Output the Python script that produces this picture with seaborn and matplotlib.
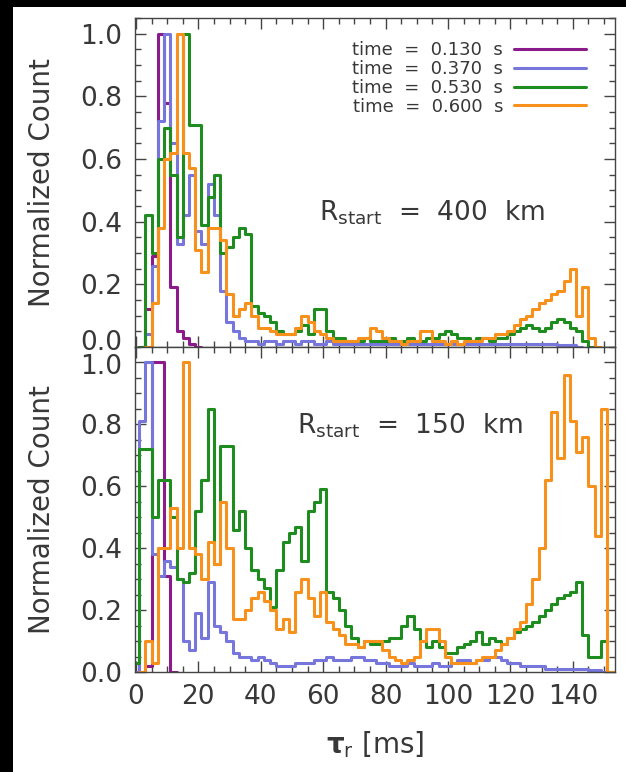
import numpy as np
import pandas as pd
import matplotlib
matplotlib.use("Agg")
import matplotlib.pyplot as plt
import seaborn as sns
from matplotlib.patches import Rectangle
from matplotlib.lines import Line2D
from matplotlib.ticker import MultipleLocator
from matplotlib.transforms import ScaledTranslation

# ---------------- data (bin centres 0..150 ms, bin width 2 ms) ----------------
bin_centers = list(range(0, 152, 2))          # 76 bins
times = ["0.130", "0.370", "0.530", "0.600"]
colors = ["#8b1a8b", "#7676dc", "#1e8c1e", "#f8901c"]

def _fill(d):
    out = [0.0] * len(bin_centers)
    for c, v in d.items():
        out[c // 2] = v
    return out

# R_start = 400 km
purple_400 = _fill({4: 0.12, 6: 0.29, 8: 1.0, 10: 0.78, 12: 0.19, 14: 0.05, 16: 0.03, 18: 0.01})
blue_400 = _fill({4: 0.04, 6: 0.26, 8: 0.72, 10: 1.0, 12: 0.65, 14: 0.33, 16: 0.42, 18: 0.55,
                  20: 0.37, 22: 0.33, 24: 0.52, 26: 0.42, 28: 0.18, 30: 0.08, 32: 0.05,
                  34: 0.03, 36: 0.02, 38: 0.02, 40: 0.01, 42: 0.02, 44: 0.02, 46: 0.01,
                  48: 0.02, 50: 0.02, 52: 0.01, 54: 0.02, 56: 0.02, 58: 0.01, 60: 0.01,
                  62: 0.02, 64: 0.01, 66: 0.01, 68: 0.01, 70: 0.01, 72: 0.01, 74: 0.01,
                  76: 0.01, 78: 0.01, 80: 0.01, 82: 0.01, 84: 0.01, 86: 0.01, 88: 0.01,
                  90: 0.01, 92: 0.01, 94: 0.01, 96: 0.01, 98: 0.01, 100: 0.01, 102: 0.01,
                  104: 0.01, 106: 0.01, 108: 0.01, 110: 0.01, 112: 0.01, 114: 0.01,
                  116: 0.01, 118: 0.01, 120: 0.01, 122: 0.01, 124: 0.01, 126: 0.01,
                  128: 0.01, 130: 0.01, 132: 0.01, 134: 0.01, 136: 0.005, 138: 0.005,
                  140: 0.005})
green_400 = _fill({4: 0.42, 6: 0.3, 8: 0.6, 10: 0.7, 12: 0.55, 14: 0.35, 16: 1.0, 18: 0.71,
                   20: 0.71, 22: 0.39, 24: 0.48, 26: 0.55, 28: 0.3, 30: 0.32, 32: 0.35,
                   34: 0.38, 36: 0.36, 38: 0.13, 40: 0.11, 42: 0.1, 44: 0.08, 46: 0.05,
                   48: 0.04, 50: 0.04, 52: 0.05, 54: 0.07, 56: 0.04, 58: 0.12, 60: 0.12,
                   62: 0.05, 64: 0.03, 66: 0.03, 68: 0.02, 70: 0.02, 72: 0.02, 74: 0.03,
                   76: 0.02, 78: 0.02, 80: 0.02, 82: 0.03, 84: 0.02, 86: 0.02, 88: 0.03,
                   90: 0.02, 92: 0.02, 94: 0.03, 96: 0.03, 98: 0.04, 100: 0.05, 102: 0.04,
                   104: 0.03, 106: 0.03, 108: 0.02, 110: 0.03, 112: 0.03, 114: 0.02,
                   116: 0.03, 118: 0.03, 120: 0.04, 122: 0.05, 124: 0.06, 126: 0.07,
                   128: 0.06, 130: 0.05, 132: 0.06, 134: 0.08, 136: 0.09, 138: 0.08,
                   140: 0.06, 142: 0.05, 144: 0.02})
orange_400 = _fill({6: 0.14, 8: 0.38, 10: 0.6, 12: 0.62, 14: 1.0, 16: 0.62, 18: 0.57,
                    20: 0.31, 22: 0.24, 24: 0.38, 26: 0.38, 28: 0.34, 30: 0.17, 32: 0.1,
                    34: 0.12, 36: 0.14, 38: 0.1, 40: 0.06, 42: 0.06, 44: 0.05, 46: 0.04,
                    48: 0.04, 50: 0.04, 52: 0.06, 54: 0.1, 56: 0.08, 58: 0.05, 60: 0.04,
                    62: 0.03, 64: 0.02, 66: 0.02, 68: 0.02, 70: 0.02, 72: 0.03, 74: 0.03,
                    76: 0.06, 78: 0.05, 80: 0.03, 82: 0.02, 84: 0.02, 86: 0.01, 88: 0.02,
                    90: 0.02, 92: 0.05, 94: 0.05, 96: 0.02, 98: 0.02, 100: 0.01, 102: 0.02,
                    104: 0.01, 106: 0.02, 108: 0.02, 110: 0.02, 112: 0.03, 114: 0.03,
                    116: 0.04, 118: 0.04, 120: 0.05, 122: 0.07, 124: 0.09, 126: 0.1,
                    128: 0.12, 130: 0.14, 132: 0.15, 134: 0.17, 136: 0.18, 138: 0.21,
                    140: 0.25, 142: 0.1, 144: 0.19, 146: 0.03})

# R_start = 150 km
purple_150 = _fill({4: 0.02, 6: 1.0, 8: 1.0, 10: 0.31})
blue_150 = _fill({2: 0.81, 4: 1.0, 6: 0.38, 8: 0.31, 10: 0.36, 12: 0.34, 14: 0.3, 16: 0.1,
                  18: 0.07, 20: 0.19, 22: 0.11, 24: 0.29, 26: 0.15, 28: 0.13, 30: 0.1,
                  32: 0.06, 34: 0.05, 36: 0.05, 38: 0.04, 40: 0.05, 42: 0.04, 44: 0.03,
                  46: 0.02, 48: 0.02, 50: 0.02, 52: 0.03, 54: 0.03, 56: 0.03, 58: 0.04,
                  60: 0.04, 62: 0.05, 64: 0.04, 66: 0.04, 68: 0.04, 70: 0.05, 72: 0.05,
                  74: 0.04, 76: 0.04, 78: 0.03, 80: 0.03, 82: 0.02, 84: 0.02, 86: 0.02,
                  88: 0.03, 90: 0.02, 92: 0.02, 94: 0.02, 96: 0.03, 98: 0.02, 100: 0.02,
                  102: 0.03, 104: 0.04, 106: 0.04, 108: 0.03, 110: 0.04, 112: 0.04,
                  114: 0.05, 116: 0.05, 118: 0.04, 120: 0.03, 122: 0.03, 124: 0.02,
                  126: 0.02, 128: 0.02, 130: 0.02, 132: 0.01, 134: 0.01, 136: 0.01,
                  138: 0.01, 140: 0.01, 142: 0.01, 144: 0.01, 146: 0.005, 148: 0.005})
green_150 = _fill({0: 0.03, 2: 0.72, 4: 0.72, 6: 0.5, 8: 0.62, 10: 0.62, 12: 0.5, 14: 0.3,
                   16: 0.29, 18: 0.32, 20: 0.52, 22: 0.62, 24: 0.85, 26: 0.35, 28: 0.73,
                   30: 0.73, 32: 0.46, 34: 0.52, 36: 0.4, 38: 0.33, 40: 0.3, 42: 0.27,
                   44: 0.21, 46: 0.33, 48: 0.42, 50: 0.45, 52: 0.47, 54: 0.36, 56: 0.52,
                   58: 0.55, 60: 0.59, 62: 0.26, 64: 0.24, 66: 0.2, 68: 0.15, 70: 0.11,
                   72: 0.08, 74: 0.1, 76: 0.09, 78: 0.09, 80: 0.1, 82: 0.11, 84: 0.11,
                   86: 0.15, 88: 0.18, 90: 0.14, 92: 0.1, 94: 0.08, 96: 0.1, 98: 0.08,
                   100: 0.06, 102: 0.06, 104: 0.08, 106: 0.09, 108: 0.1, 110: 0.13,
                   112: 0.09, 114: 0.11, 116: 0.1, 118: 0.09, 120: 0.11, 122: 0.13,
                   124: 0.14, 126: 0.15, 128: 0.16, 130: 0.18, 132: 0.2, 134: 0.22,
                   136: 0.24, 138: 0.25, 140: 0.26, 142: 0.29, 144: 0.12, 146: 0.05,
                   148: 0.05, 150: 0.1})
orange_150 = _fill({4: 0.1, 6: 0.03, 8: 0.4, 10: 0.4, 12: 0.53, 14: 0.4, 16: 1.0, 18: 0.4,
                    20: 0.38, 22: 0.3, 24: 0.42, 26: 0.35, 28: 0.55, 30: 0.4, 32: 0.17,
                    34: 0.17, 36: 0.2, 38: 0.24, 40: 0.26, 42: 0.23, 44: 0.2, 46: 0.14,
                    48: 0.17, 50: 0.13, 52: 0.26, 54: 0.3, 56: 0.24, 58: 0.18, 60: 0.26,
                    62: 0.16, 64: 0.14, 66: 0.12, 68: 0.09, 70: 0.09, 72: 0.08, 74: 0.1,
                    76: 0.1, 78: 0.1, 80: 0.07, 82: 0.05, 84: 0.04, 86: 0.03, 88: 0.04,
                    90: 0.05, 92: 0.1, 94: 0.14, 96: 0.14, 98: 0.1, 100: 0.05, 102: 0.03,
                    104: 0.03, 106: 0.03, 108: 0.03, 110: 0.04, 112: 0.05, 114: 0.05,
                    116: 0.07, 118: 0.09, 120: 0.11, 122: 0.14, 124: 0.16, 126: 0.22,
                    128: 0.3, 130: 0.4, 132: 0.62, 134: 0.84, 136: 0.69, 138: 0.96,
                    140: 0.81, 142: 0.71, 144: 0.76, 146: 0.6, 148: 0.44, 150: 0.85})

panels = [
    ("400", [purple_400, blue_400, green_400, orange_400]),
    ("150", [purple_150, blue_150, green_150, orange_150]),
]
x_ticks = [0, 20, 40, 60, 80, 100, 120, 140]
y_ticks = [0.0, 0.2, 0.4, 0.6, 0.8, 1.0]

# ---------------- style ----------------
sns.set_style("ticks")
plt.rcParams["font.family"] = ["DejaVu Sans"]
plt.rcParams["mathtext.fontset"] = "dejavusans"
TXT = "#383838"
FS = 19

W, H = 626, 772
fig = plt.figure(figsize=(W / 100, H / 100), dpi=100)
fig.patch.set_facecolor("black")
fig.add_artist(Rectangle((13 / W, 0), (W - 13) / W, (H - 7) / H,
                         transform=fig.transFigure, facecolor="white",
                         edgecolor="none", zorder=-10))

left, right = 135 / W, 615 / W
ax_top = fig.add_axes([left, 1 - 347 / H, right - left, (347 - 18) / H])
ax_bot = fig.add_axes([left, 1 - 672 / H, right - left, (672 - 347) / H])

centers = np.array(bin_centers + [bin_centers[-1] + 2], dtype=float)
edges = np.append(centers - 1, centers[-1] + 1)

for ax, (rkm, series) in zip([ax_top, ax_bot], panels):
    for vals, col in zip(series, colors):
        v = np.append(np.asarray(vals, float), 0.0)
        nz = np.nonzero(v)[0]
        lo = max(nz[0] - 1, 0)
        hi = nz[-1] + 1
        sub = pd.DataFrame({"tau": centers[lo:hi + 1], "w": v[lo:hi + 1]})
        sns.histplot(data=sub, x="tau", weights="w",
                     bins=[float(e) for e in edges[lo:hi + 2]],
                     element="step", fill=False, color=col, linewidth=2.2, ax=ax)
    ax.set_xlim(-0.3, 153.5)
    ax.set_ylim(0, 1.05)
    ax.set_xticks(x_ticks)
    ax.set_yticks(y_ticks)
    ax.set_yticklabels([f"{t:.1f}" for t in y_ticks])
    ax.xaxis.set_minor_locator(MultipleLocator(5))
    ax.yaxis.set_minor_locator(MultipleLocator(0.05))
    ax.tick_params(which="both", direction="in", top=True, right=True,
                   color="#444444", width=1.0)
    ax.tick_params(which="major", length=8, labelsize=FS, labelcolor=TXT, pad=9)
    ax.tick_params(which="minor", length=4)
    for s in ax.spines.values():
        s.set_color("#444444")
        s.set_linewidth(1.0)
    ax.set_ylabel("Normalized Count", fontsize=20, color=TXT)
    ax.yaxis.set_label_coords(-0.165, 0.5)
    ax.set_facecolor("white")
    ax.set_xlabel("")

ax_top.tick_params(axis="x", labelbottom=False)
ax_bot.set_xlabel(r"$\mathbf{\tau}_\mathrm{r}$ [ms]", fontsize=20, color=TXT)
ax_bot.xaxis.set_label_coords(0.5, -0.175)

# IDL-style stacking of the shared "0.0" / "1.0" labels at the panel joint
fig.canvas.draw()
lab0 = ax_top.get_yticklabels()[0]
lab0.set_transform(lab0.get_transform() + ScaledTranslation(0, 7 / 100, fig.dpi_scale_trans))
lab1 = ax_bot.get_yticklabels()[-1]
lab1.set_transform(lab1.get_transform() + ScaledTranslation(0, -2 / 100, fig.dpi_scale_trans))

ax_top.text(58.5, 0.43, r"R$_\mathrm{start}$  =  400  km", fontsize=FS, color=TXT,
            va="center", ha="left")
ax_bot.text(51.7, 0.795, r"R$_\mathrm{start}$  =  150  km", fontsize=FS, color=TXT,
            va="center", ha="left")

handles = [Line2D([], [], color=c, linewidth=2.2) for c in colors]
labels = [f"time  =  {t}  s" for t in times]
ax_top.legend(handles, labels, loc="upper right", bbox_to_anchor=(0.94, 0.93),
              frameon=False, markerfirst=False, fontsize=13, handlelength=4.0,
              handletextpad=0.6, labelspacing=0.05, borderpad=0, borderaxespad=0,
              labelcolor=TXT)

fig.savefig("out.png", dpi=100, facecolor=fig.get_facecolor())
